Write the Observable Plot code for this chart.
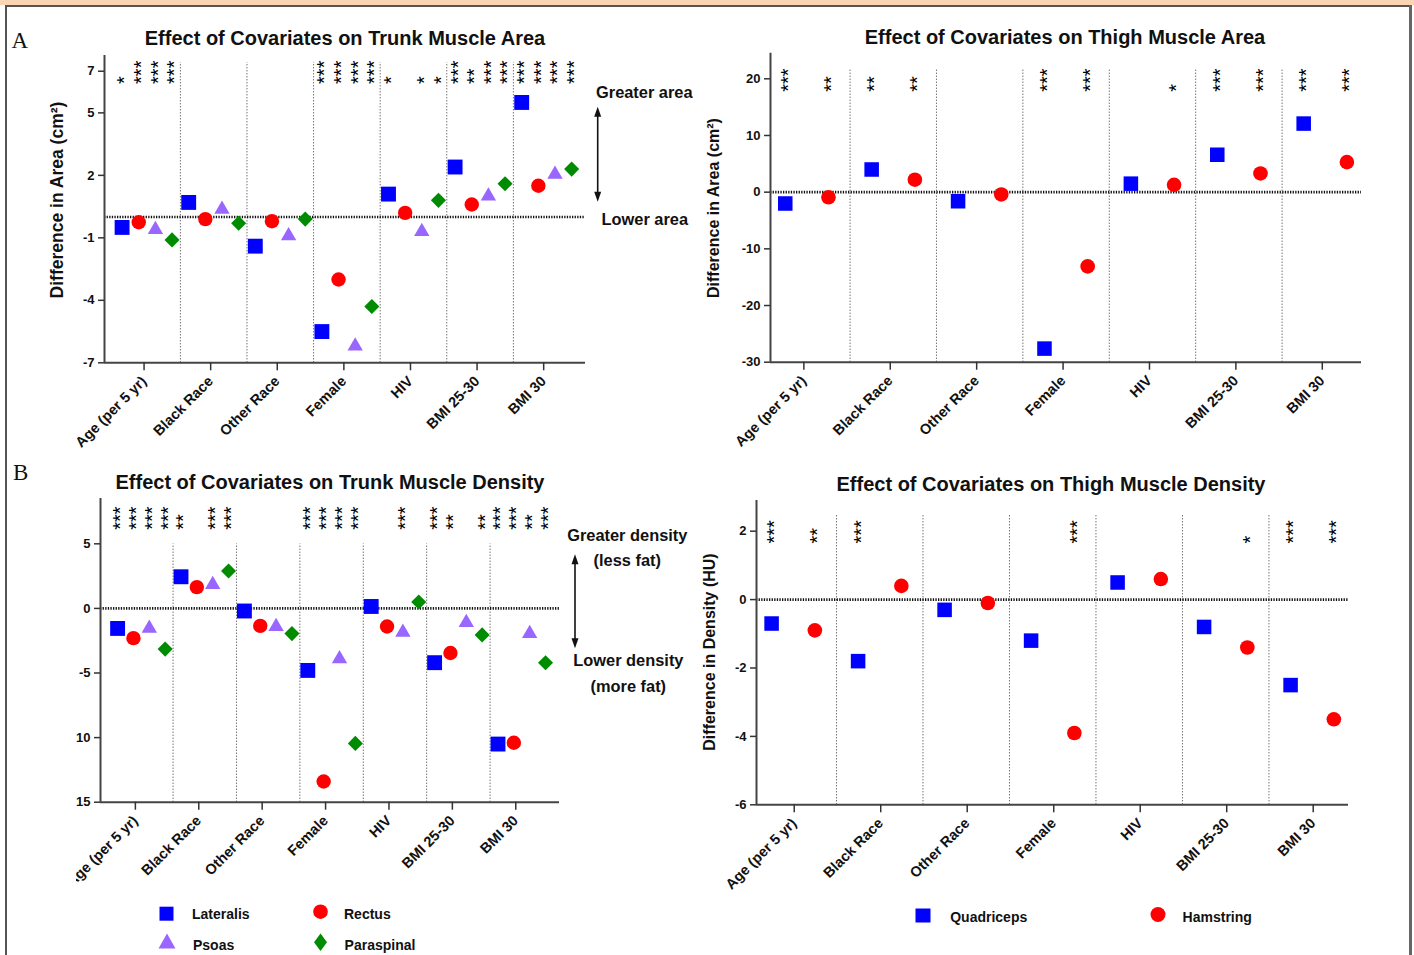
<!DOCTYPE html>
<html>
<head>
<meta charset="utf-8">
<script src="https://cdn.jsdelivr.net/npm/d3@7"></script>
<script src="https://cdn.jsdelivr.net/npm/@observablehq/plot@0.6"></script>
<style>
  body { margin: 0; background: #fff; }
  #fig { position: relative; width: 1414px; height: 955px; overflow: hidden; background: #fff;
         font-family: "Liberation Sans", Arial, Helvetica, sans-serif; color: #111; }
  .abs { position: absolute; white-space: nowrap; line-height: 1; }
  .ctr { transform: translate(-50%, -50%); }
  .ttl { font-weight: bold; font-size: 20px; }
  .yl  { font-weight: bold; font-size: 16px; transform: translate(-50%, -50%) rotate(-90deg); }
  .ann { font-weight: bold; font-size: 16.4px; }
  .lg  { font-weight: bold; font-size: 14px; transform: translateY(-50%); }
  .lab { font-family: "Liberation Serif", "Times New Roman", serif; font-size: 23px; transform: translateY(-50%); }
</style>
</head>
<body>
<div id="fig"></div>
<script>
// ---------------- DATA ----------------
const categories = ["Age (per 5 yr)", "Black Race", "Other Race", "Female", "HIV", "BMI 25-30", "BMI 30"];

// Trunk muscles
const trunkSeries = ["Lateralis", "Rectus", "Psoas", "Paraspinal"];
// Trunk muscle area (cm²)
const trunkAreaLateralis  = [-0.5, 0.7, -1.4, -5.5, 1.1, 2.4, 5.5];
const trunkAreaRectus     = [-0.25, -0.1, -0.2, -3.0, 0.2, 0.6, 1.5];
const trunkAreaPsoas      = [-0.6, 0.37, -0.9, -6.2, -0.7, 1.0, 2.05];
const trunkAreaParaspinal = [-1.1, -0.3, -0.1, -4.3, 0.8, 1.6, 2.3];
const trunkAreaLateralisSig  = ["*", "", "", "***", "*", "***", "***"];
const trunkAreaRectusSig     = ["***", "", "", "***", "", "**", "***"];
const trunkAreaPsoasSig      = ["***", "", "", "***", "*", "***", "***"];
const trunkAreaParaspinalSig = ["***", "", "", "***", "*", "***", "***"];
const trunkAreaTicks = [-7, -4, -1, 2, 5, 7];
const trunkAreaTickLabels = ["-7", "-4", "-1", "2", "5", "7"];

// Trunk muscle density (HU)
const trunkDensityLateralis  = [-1.55, 2.45, -0.2, -4.8, 0.15, -4.2, -10.5];
const trunkDensityRectus     = [-2.3, 1.65, -1.35, -13.4, -1.4, -3.45, -10.4];
const trunkDensityPsoas      = [-1.55, 1.85, -1.4, -3.9, -1.85, -1.1, -1.95];
const trunkDensityParaspinal = [-3.15, 2.9, -1.95, -10.45, 0.5, -2.05, -4.2];
const trunkDensityLateralisSig  = ["***", "**", "", "***", "", "***", "***"];
const trunkDensityRectusSig     = ["***", "", "", "***", "", "**", "***"];
const trunkDensityPsoasSig      = ["***", "***", "", "***", "***", "", "**"];
const trunkDensityParaspinalSig = ["***", "***", "", "***", "", "**", "***"];
const trunkDensityTicks = [-15, -10, -5, 0, 5];
const trunkDensityTickLabels = ["15", "10", "-5", "0", "5"];

// Thigh muscles
const thighSeries = ["Quadriceps", "Hamstring"];
// Thigh muscle area (cm²)
const thighAreaQuadriceps = [-2.0, 4.0, -1.6, -27.6, 1.5, 6.6, 12.1];
const thighAreaHamstring  = [-0.9, 2.2, -0.4, -13.1, 1.3, 3.3, 5.3];
const thighAreaQuadricepsSig = ["***", "**", "", "***", "", "***", "***"];
const thighAreaHamstringSig  = ["**", "**", "", "***", "*", "***", "***"];
const thighAreaTicks = [-30, -20, -10, 0, 10, 20];
const thighAreaTickLabels = ["-30", "-20", "-10", "0", "10", "20"];

// Thigh muscle density (HU)
const thighDensityQuadriceps = [-0.7, -1.8, -0.3, -1.2, 0.5, -0.8, -2.5];
const thighDensityHamstring  = [-0.9, 0.4, -0.1, -3.9, 0.6, -1.4, -3.5];
const thighDensityQuadricepsSig = ["***", "***", "", "", "", "", "***"];
const thighDensityHamstringSig  = ["**", "", "", "***", "", "*", "***"];
const thighDensityTicks = [-6, -4, -2, 0, 2];
const thighDensityTickLabels = ["-6", "-4", "-2", "0", "2"];

// ---------------- STYLE ----------------
const FONT = "Liberation Sans, Arial, Helvetica, sans-serif";
const trunkSymbols = ["square", "circle", "triangle", "diamond2"];
const trunkColors  = ["#0000ff", "#ff0000", "#9966ff", "#008c00"];
const trunkRadii   = [8.4, 7.2, 5.7, 6.8];
const thighSymbols = ["square", "circle"];
const thighColors  = ["#0000ff", "#ff0000"];
const thighRadii   = [8.2, 7.3];

const fig = document.getElementById("fig");

function addEl(html, cls, css) {
  const d = document.createElement("div");
  d.className = "abs " + cls;
  d.innerHTML = html;
  Object.assign(d.style, css);
  fig.appendChild(d);
  return d;
}

function drawPanel(cfg) {
  const n = categories.length;
  const rangeW = cfg.width - cfg.mL - cfg.mR;
  const step = rangeW / (n - 1 + 2 * cfg.pad);
  const firstOff = (rangeW - step * (n - 1)) * cfg.align;
  const k = cfg.series.length;
  const off = i => (i - (k - 1) / 2) * step / k;
  const y0 = cfg.yDomain[0];

  const marks = [
    Plot.ruleX(categories.slice(1), {x: d => d, dx: -step / 2, y1: () => y0, y2: () => cfg.divTop,
      stroke: "#333", strokeWidth: 1, strokeDasharray: "1,2"}),
    Plot.ruleY([0], {stroke: "#111", strokeWidth: 2.6, strokeDasharray: "1.3,1.3"}),
    Plot.ruleY([y0], {stroke: "#444", strokeWidth: 2}),
    Plot.ruleX([categories[0]], {x: d => d, dx: -firstOff, stroke: "#444", strokeWidth: 2}),
    Plot.axisX({tickRotate: -45, tickSize: 8, tickPadding: 8, fontSize: 14.5, fontWeight: "bold",
      stroke: "#333", strokeWidth: 1.5, label: null, dx: cfg.labDx}),
    Plot.axisY({ticks: cfg.yTicks, tickFormat: d => cfg.yTickLabels[cfg.yTicks.indexOf(d)],
      tickSize: 6, tickPadding: 4, fontSize: 13, fontWeight: "bold", stroke: "#333", strokeWidth: 1.5, label: null})
  ];
  cfg.series.forEach((s, i) => {
    const rows = categories.map((c, j) => ({cat: c, value: cfg.values[i][j]}));
    marks.push(Plot.dot(rows, {x: "cat", y: "value", dx: off(i), symbol: cfg.symbols[i], r: cfg.radii[i],
      fill: cfg.colors[i], stroke: "none"}));
  });
  cfg.series.forEach((s, i) => {
    const rows = categories.map((c, j) => ({cat: c, sig: cfg.sigs[i][j]})).filter(d => d.sig);
    marks.push(Plot.text(rows, {x: "cat", y: () => cfg.starY, text: "sig", rotate: -90, textAnchor: "start",
      lineAnchor: "middle", dx: off(i) + 3, fontSize: 20, fontWeight: "normal", fill: "#000"}));
  });

  const svg = Plot.plot({
    width: cfg.width, height: cfg.height,
    marginLeft: cfg.mL, marginRight: cfg.mR, marginTop: cfg.mT, marginBottom: cfg.mB,
    x: {type: "point", domain: categories, padding: cfg.pad, align: cfg.align, round: false},
    y: {type: "linear", domain: cfg.yDomain},
    style: {fontFamily: FONT, fontSize: "13px", fontWeight: "bold", background: "transparent",
            color: "#111", overflow: cfg.clip ? "hidden" : "visible"},
    marks
  });
  const wrap = document.createElement("div");
  Object.assign(wrap.style, {position: "absolute", left: cfg.left + "px", top: cfg.top + "px",
    width: cfg.width + "px", height: cfg.height + "px", overflow: cfg.clip ? "hidden" : "visible"});
  wrap.appendChild(svg);
  fig.appendChild(wrap);
}

// frame decorations
addEl("", "", {left: "0px", top: "0px", width: "1414px", height: "5px", background: "#fbd6b4"});
addEl("", "", {left: "5px", top: "5px", width: "1407px", height: "2px", background: "#555"});
addEl("", "", {left: "5px", top: "5px", width: "2px", height: "950px", background: "#555"});
addEl("", "", {left: "1409px", top: "5px", width: "3px", height: "950px", background: "#666"});

// panels
drawPanel({left: 8, top: 48, width: 600, height: 412, mL: 96, mR: 23, mT: 7.1, mB: 97.7, labDx: -3,
  pad: 0.611, align: 0.523, yDomain: [-7, 7.75], yTicks: trunkAreaTicks, yTickLabels: trunkAreaTickLabels,
  divTop: 7.42, starY: 6.39, series: trunkSeries, symbols: trunkSymbols, colors: trunkColors, radii: trunkRadii,
  values: [trunkAreaLateralis, trunkAreaRectus, trunkAreaPsoas, trunkAreaParaspinal],
  sigs: [trunkAreaLateralisSig, trunkAreaRectusSig, trunkAreaPsoasSig, trunkAreaParaspinalSig]});

drawPanel({left: 700, top: 45, width: 690, height: 415, mL: 70, mR: 29, mT: 7.8, mB: 98.3, labDx: -3,
  pad: 0.42, align: 0.501, yDomain: [-30, 24.5], yTicks: thighAreaTicks, yTickLabels: thighAreaTickLabels,
  divTop: 21.8, starY: 17.7, series: thighSeries, symbols: thighSymbols, colors: thighColors, radii: thighRadii,
  values: [thighAreaQuadriceps, thighAreaHamstring],
  sigs: [thighAreaQuadricepsSig, thighAreaHamstringSig]});

drawPanel({left: 76, top: 490, width: 520, height: 465, mL: 24, mR: 37, mT: 8.1, mB: 153.3, clip: true, labDx: -6,
  pad: 0.62, align: 0.52, yDomain: [-15, 8.5], yTicks: trunkDensityTicks, yTickLabels: trunkDensityTickLabels,
  divTop: 5, starY: 6.08, series: trunkSeries, symbols: trunkSymbols, colors: trunkColors, radii: trunkRadii,
  values: [trunkDensityLateralis, trunkDensityRectus, trunkDensityPsoas, trunkDensityParaspinal],
  sigs: [trunkDensityLateralisSig, trunkDensityRectusSig, trunkDensityPsoasSig, trunkDensityParaspinalSig]});

drawPanel({left: 700, top: 492, width: 690, height: 463, mL: 56, mR: 42, mT: 7.9, mB: 150.7, labDx: 1,
  pad: 0.422, align: 0.503, yDomain: [-6, 2.9], yTicks: thighDensityTicks, yTickLabels: thighDensityTickLabels,
  divTop: 2.5, starY: 1.64, series: thighSeries, symbols: thighSymbols, colors: thighColors, radii: thighRadii,
  values: [thighDensityQuadriceps, thighDensityHamstring],
  sigs: [thighDensityQuadricepsSig, thighDensityHamstringSig]});

// titles & panel letters
addEl("Effect of Covariates on Trunk Muscle Area", "ctr ttl", {left: "345px", top: "38px"});
addEl("Effect of Covariates on Thigh Muscle Area", "ctr ttl", {left: "1065px", top: "37.3px"});
addEl("Effect of Covariates on Trunk Muscle Density", "ctr ttl", {left: "330px", top: "481.7px"});
addEl("Effect of Covariates on Thigh Muscle Density", "ctr ttl", {left: "1051px", top: "484px"});
addEl("A", "lab", {left: "11.5px", top: "39.5px"});
addEl("B", "lab", {left: "13px", top: "472px"});

// y axis titles
addEl("Difference in Area (cm²)", "yl", {left: "58px", top: "200px", fontSize: "17.5px"});
addEl("Difference in Area (cm²)", "yl", {left: "714px", top: "208px"});
addEl("Difference in Density (HU)", "yl", {left: "710px", top: "652px"});

// annotations
addEl("Greater area", "ann", {left: "596px", top: "91.7px", transform: "translateY(-50%)"});
addEl("Lower area", "ann", {left: "601.5px", top: "218.7px", transform: "translateY(-50%)"});
addEl("Greater density", "ann ctr", {left: "627.3px", top: "534.7px"});
addEl("(less fat)", "ann ctr", {left: "627.3px", top: "559.5px"});
addEl("Lower density", "ann ctr", {left: "628.4px", top: "660.3px"});
addEl("(more fat)", "ann ctr", {left: "628.3px", top: "685.5px"});

// legend texts
addEl("Lateralis", "lg", {left: "192px", top: "914.2px"});
addEl("Rectus", "lg", {left: "344px", top: "914.2px"});
addEl("Psoas", "lg", {left: "193px", top: "944.8px"});
addEl("Paraspinal", "lg", {left: "344.6px", top: "944.8px"});
addEl("Quadriceps", "lg", {left: "950.2px", top: "916.5px"});
addEl("Hamstring", "lg", {left: "1182.6px", top: "916.5px"});

// overlay: arrows and legend swatches
const NS = "http://www.w3.org/2000/svg";
const ov = document.createElementNS(NS, "svg");
ov.setAttribute("width", 1414); ov.setAttribute("height", 955);
Object.assign(ov.style, {position: "absolute", left: "0px", top: "0px", pointerEvents: "none"});
function sv(tag, attrs) { const e = document.createElementNS(NS, tag); for (const a in attrs) e.setAttribute(a, attrs[a]); ov.appendChild(e); return e; }
function dblArrow(x, yTop, yBot) {
  sv("line", {x1: x, x2: x, y1: yTop + 6, y2: yBot - 6, stroke: "#111", "stroke-width": 1.6});
  sv("polygon", {points: `${x},${yTop} ${x - 3.5},${yTop + 10} ${x + 3.5},${yTop + 10}`, fill: "#111"});
  sv("polygon", {points: `${x},${yBot} ${x - 3.5},${yBot - 10} ${x + 3.5},${yBot - 10}`, fill: "#111"});
}
dblArrow(597.7, 106.7, 201.7);
dblArrow(575, 554.3, 648.3);
sv("rect", {x: 159.5, y: 906.7, width: 14, height: 14, fill: "#0000ff"});
sv("circle", {cx: 320.5, cy: 911.7, r: 7.3, fill: "#ff0000"});
sv("polygon", {points: "167,933.5 175.5,948.5 158.5,948.5", fill: "#9966ff"});
sv("polygon", {points: "320.5,933.5 327,942.3 320.5,951 314,942.3", fill: "#008c00"});
sv("rect", {x: 915.5, y: 908.5, width: 15, height: 14, fill: "#0000ff"});
sv("circle", {cx: 1158, cy: 914.5, r: 7.5, fill: "#ff0000"});
fig.appendChild(ov);
</script>
</body>
</html>
